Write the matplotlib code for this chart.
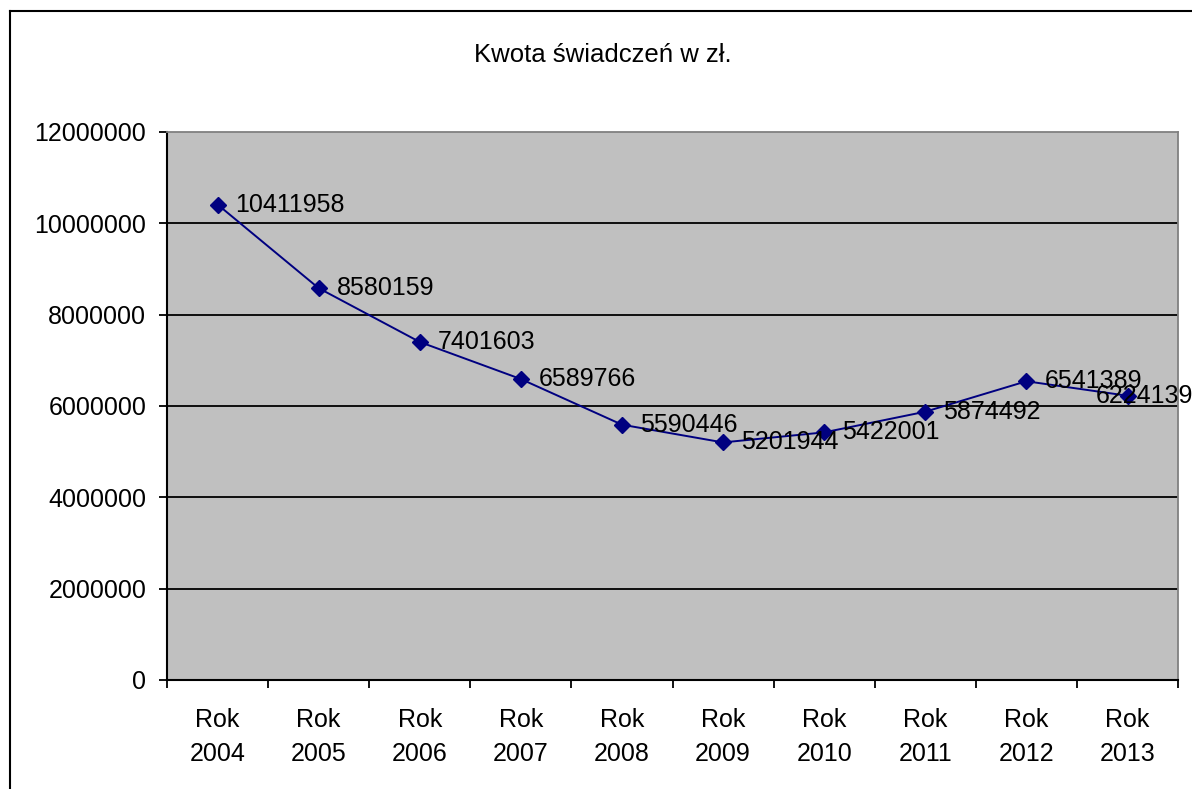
import matplotlib
matplotlib.use("Agg")
import matplotlib.pyplot as plt
from matplotlib.lines import Line2D
import numpy as np

plt.rcParams["font.family"] = ["Liberation Sans", "DejaVu Sans"]

TITLE = "Kwota świadczeń w zł."
years = ["2004", "2005", "2006", "2007", "2008", "2009", "2010", "2011", "2012", "2013"]
amounts = [10411958, 8580159, 7401603, 6589766, 5590446, 5201944, 5422001, 5874492, 6541389, 6224139]
y_ticks = [0, 2000000, 4000000, 6000000, 8000000, 10000000, 12000000]

FS = 18

fig = plt.figure(figsize=(11.92, 7.89), dpi=100)
ax = fig.add_axes([0.1401, 0.1382, 0.8482, 0.6945])
ax.set_facecolor("#C0C0C0")

x = np.arange(len(years))
ax.plot(x, amounts, color="#000080", lw=1.4, marker="D", ms=8.5,
        mfc="#000080", mec="#000080", zorder=3)

# data labels to the right of each point (Excel style); last one squeezed left
for i, v in enumerate(amounts):
    dx = 13 if i < len(amounts) - 1 else -23
    ax.annotate(str(v), (i, v), xytext=(dx, 0), textcoords="offset points",
                ha="left", va="center", fontsize=FS, annotation_clip=False, zorder=4)

ax.set_xlim(-0.5, len(years) - 0.5)
ax.set_ylim(0, 12000000)
ax.set_yticks(y_ticks)
ax.set_yticklabels([str(t) for t in y_ticks])
for t in y_ticks[1:-1]:
    ax.axhline(t, color="black", lw=1.3, zorder=1)

ax.set_xticks(x)
ax.set_xticklabels([f"Rok\n{y}" for y in years], linespacing=1.55)
ax.set_xticks(np.arange(-0.5, len(years)), minor=True)
ax.tick_params(axis="x", which="major", length=0, pad=20, labelsize=FS)
ax.tick_params(axis="x", which="minor", length=6, width=1.3, direction="out")
ax.tick_params(axis="y", length=6, width=1.3, pad=9, labelsize=FS)

for side in ("left", "bottom"):
    ax.spines[side].set_color("black")
    ax.spines[side].set_linewidth(1.5)
for side in ("top", "right"):
    ax.spines[side].set_color("#808080")
    ax.spines[side].set_linewidth(1.3)

fig.text(0.506, 0.930, TITLE, ha="center", va="center", fontsize=18.5)

# outer chart border (runs off the right and bottom edges)
x0, y1 = 9.5 / 1192, 1 - 10.5 / 789
fig.add_artist(Line2D([x0, x0], [-0.1, y1], color="black", lw=1.5))
fig.add_artist(Line2D([x0, 1.1], [y1, y1], color="black", lw=1.5))

fig.savefig("out.png", dpi=100)
